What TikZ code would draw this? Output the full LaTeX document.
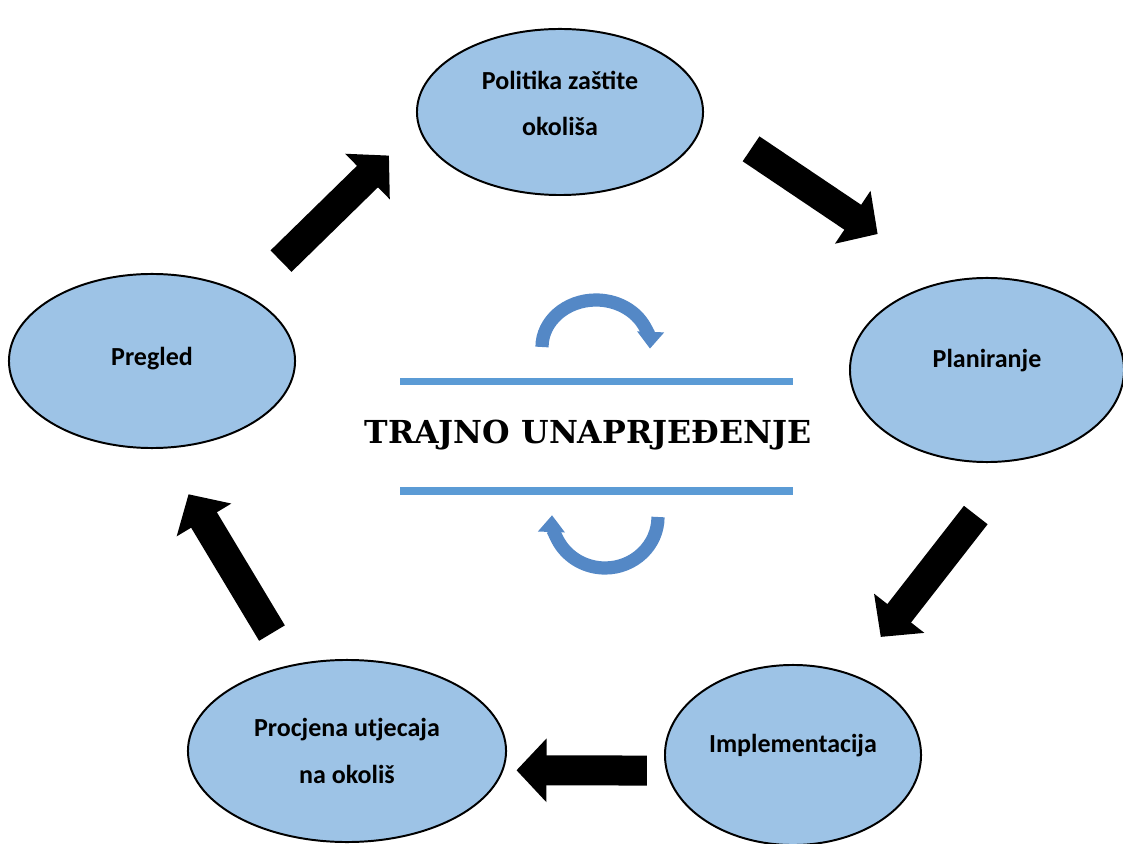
\documentclass[tikz,border=0pt]{standalone}
\usepackage{fontspec}
\setmainfont{Carlito}
\newfontfamily\titlefont{DejaVu Serif}
\usetikzlibrary{shapes.geometric, arrows.meta}
\definecolor{ovalblue}{RGB}{157,195,230}
\definecolor{lineblue}{RGB}{91,155,213}
\definecolor{turnblue}{RGB}{84,136,198}

\begin{document}
\begin{tikzpicture}[x=0.025cm, y=0.025cm,
    phase/.style={ellipse, draw=black, line width=1.4pt, fill=ovalblue, inner sep=0pt,
        align=center, font=\fontsize{18.5}{33}\selectfont\bfseries},
    bigarrow/.style={line width=0.75cm, -{Triangle[width=1.55cm, length=0.75cm]}},
    turnarrow/.style={turnblue, line width=0.33cm, -{Triangle[width=0.65cm, length=0.42cm]}}]

\useasboundingbox (0,0) rectangle (1123,843);

% Nodes
\node (politika) [phase, minimum width=7.15cm, minimum height=4.15cm, text depth=12.5pt] at (560,731) {Politika zaštite\\okoliša};
\node (planiranje) [phase, minimum width=6.85cm, minimum height=4.6cm, text depth=17pt] at (987,473) {Planiranje};
\node (implementacija) [phase, minimum width=6.4cm, minimum height=4.5cm, text depth=16pt] at (793,88) {Implementacija};
\node (procjena) [phase, minimum width=7.95cm, minimum height=4.55cm] at (347,92) {Procjena utjecaja\\na okoliš};
\node (pregled) [phase, minimum width=7.15cm, minimum height=4.35cm, text depth=7pt] at (152,482) {Pregled};

% Center text with lines
\node (trajno) at (588,408) {\titlefont\bfseries\fontsize{22.5}{27}\selectfont TRAJNO UNAPRJEĐENJE};
\draw[lineblue, line width=0.175cm] (400,461) -- (793,461);
\draw[lineblue, line width=0.175cm] (400,352) -- (793,352);

% Turning arrows
\draw[turnarrow] (542,496) arc[start angle=180, end angle=-2, x radius=54, y radius=47];
\draw[turnarrow] (658,326) arc[start angle=0, end angle=-182, x radius=53, y radius=51];

% Block arrows between phases
\draw[bigarrow, shorten <=1.2cm, shorten >=1.025cm] (pregled.35) -- (politika.186);
\draw[bigarrow, shorten <=1.425cm, shorten >=2.1cm] (politika.358) -- (planiranje.114);
\draw[bigarrow, shorten <=1.725cm, shorten >=1.175cm] (planiranje.289) -- (implementacija.54);
\draw[bigarrow, shorten <=0.475cm, shorten >=0.325cm] (implementacija.187) -- (procjena.353);
\draw[bigarrow, shorten <=0.925cm, shorten >=1.325cm] (procjena.123) -- (pregled.276);

\end{tikzpicture}
\end{document}
